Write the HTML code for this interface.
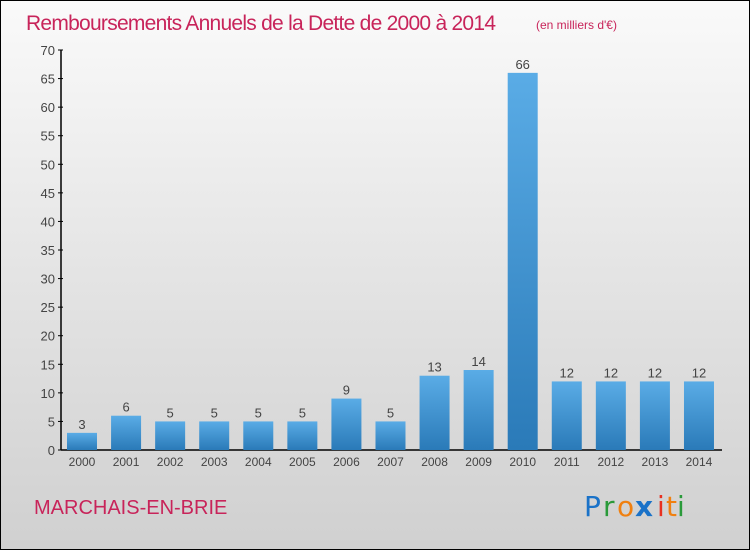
<!DOCTYPE html>
<html><head><meta charset="utf-8"><style>
html,body{margin:0;padding:0}
body{width:750px;height:550px;overflow:hidden;font-family:"Liberation Sans",sans-serif}
#wrap{position:absolute;left:0;top:0;width:748px;height:548px;border:1px solid #000;background:linear-gradient(#fafafa,#e4e4e4 50%,#d0d0d0)}
</style></head><body>
<div id="wrap">
<svg width="750" height="550" style="position:absolute;left:-1px;top:-1px">
<defs><linearGradient id="bg" x1="0" x2="0" y1="0" y2="1"><stop offset="0" stop-color="#5aace6"/><stop offset="1" stop-color="#2a7ab8"/></linearGradient></defs>
<text x="26" y="30" font-size="21" fill="#c8245a" font-family="Liberation Sans, sans-serif" textLength="470">Remboursements Annuels de la Dette de 2000 à 2014</text>
<text x="536" y="29" font-size="12" fill="#c8245a">(en milliers d'€)</text>
<g id="axes"></g><g id="bars"></g>
<text x="34" y="514" font-size="20" fill="#c8245a">MARCHAIS-EN-BRIE</text>
<g font-size="28" font-family="DejaVu Sans, sans-serif">
<text x="584" y="516" fill="#1a72c8">P</text><text x="603" y="516" fill="#2a9a3a">r</text><text x="617" y="516" fill="#f08010">o</text><text x="635" y="516" fill="#1a72c8" font-weight="bold">x</text><text x="657" y="516" fill="#e83020">i</text><text x="666" y="516" fill="#f08010">t</text><text x="677" y="516" fill="#2a9a3a">i</text>
</g>
</svg>
</div>
<script>
const years=["2000","2001","2002","2003","2004","2005","2006","2007","2008","2009","2010","2011","2012","2013","2014"];
const values=[3,6,5,5,5,5,9,5,13,14,66,12,12,12,12];
const yTicks=[0,5,10,15,20,25,30,35,40,45,50,55,60,65,70];
const NS="http://www.w3.org/2000/svg";
const y=v=>450-v*400/70;
const x=i=>82+i*44.07;
const axes=document.getElementById('axes'),bars=document.getElementById('bars');
function mk(tag,at,p){const e=document.createElementNS(NS,tag);for(const k in at)e.setAttribute(k,at[k]);p.appendChild(e);return e;}
let l=mk('line',{x1:61,x2:61,y1:50,y2:450,stroke:'#000','stroke-width':1.5},axes);


l=mk('line',{x1:61,x2:722,y1:450,y2:450,stroke:'#000','stroke-width':1.5},axes);


yTicks.forEach(v=>{
 const t=mk('line',{x1:58,x2:63,y1:y(v),y2:y(v),stroke:'#000'},axes);
 
 
 const tx=mk('text',{x:55,y:y(v)+5,'font-size':13,fill:'#444','text-anchor':'end'},axes);
 tx.textContent=v;
 
 
});
values.forEach((v,i)=>{
 const r=mk('rect',{x:x(i)-15,y:y(v),width:30,height:450-y(v),fill:'url(#bg)'},bars);
 
 
 const vl=mk('text',{x:x(i),y:y(v)-4,'font-size':13,fill:'#444','text-anchor':'middle'},bars);
 vl.textContent=v;
 
 
 const xl=mk('text',{x:x(i),y:466,'font-size':12,fill:'#444','text-anchor':'middle'},bars);
 xl.textContent=years[i];
 
 
});
</script>
</body></html>
